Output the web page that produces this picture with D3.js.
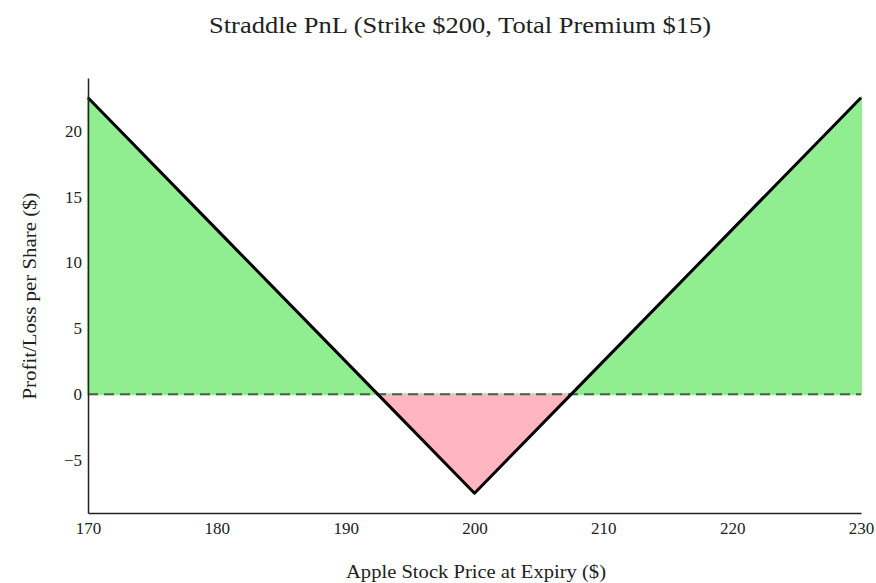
<!DOCTYPE html>
<html><head><meta charset="utf-8">
<script src="https://cdn.jsdelivr.net/npm/d3@7"></script>
<style>body{margin:0;background:#fff}svg{display:block}
.tick text{fill:#222}</style>
</head><body>
<script>
const prices = [170, 180, 190, 192.5, 200, 207.5, 210, 220, 230];
const pnl = [22.5, 12.5, 2.5, 0, -7.5, 0, 2.5, 12.5, 22.5];
const xTicks = [170, 180, 190, 200, 210, 220, 230];
const yTicks = [-5, 0, 5, 10, 15, 20];
const title = "Straddle PnL (Strike $200, Total Premium $15)";
const xLabel = "Apple Stock Price at Expiry ($)";
const yLabel = "Profit/Loss per Share ($)";

const W = 876, H = 583;
const m = {left: 88, right: 15, top: 78, bottom: 70};
const font = "'Liberation Serif', 'DejaVu Serif', serif";
const data = prices.map((p, i) => ({x: p, y: pnl[i]}));

const svg = d3.select("body").append("svg").attr("width", W).attr("height", H);
const x = d3.scaleLinear().domain([170, 230]).range([m.left, W - m.right]);
const y = d3.scaleLinear().domain([-9, 24]).range([H - m.bottom, m.top]);

svg.append("path").datum(data)
  .attr("fill", "#90EE90").attr("stroke", "#90EE90").attr("stroke-width", 2)
  .attr("d", d3.area().x(d => x(d.x)).y0(y(0)).y1(d => y(Math.max(d.y, 0))));
svg.append("path").datum(data)
  .attr("fill", "#FFB6C1")
  .attr("d", d3.area().x(d => x(d.x)).y0(y(0)).y1(d => y(Math.min(d.y, 0))));

svg.append("line").attr("x1", x(170)).attr("x2", x(230)).attr("y1", y(0)).attr("y2", y(0))
  .attr("stroke", "#555").attr("stroke-width", 2).attr("stroke-dasharray", "10,6");

svg.append("path").datum(data).attr("fill", "none").attr("stroke", "#000")
  .attr("stroke-width", 3).attr("stroke-linejoin", "round")
  .attr("d", d3.line().x(d => x(d.x)).y(d => y(d.y)));

const xa = svg.append("g").attr("transform", `translate(0,${y(-9)})`)
  .call(d3.axisBottom(x).tickValues(xTicks).tickSize(0).tickPadding(9).tickFormat(d3.format("d")));
const ya = svg.append("g").attr("transform", `translate(${m.left},0)`)
  .call(d3.axisLeft(y).tickValues(yTicks).tickSize(0).tickPadding(6).tickFormat(d => d < 0 ? "\u2212" + Math.abs(d) : d));
[xa, ya].forEach(a => {
  a.attr("font-size", 17).attr("font-family", font);
  a.select(".domain").attr("stroke", "#222").attr("stroke-width", 1.5);
});

svg.append("text").attr("x", 460).attr("y", 33).attr("text-anchor", "middle")
  .attr("font-family", font).attr("font-size", 23).attr("fill", "#222")
  .attr("textLength", 502).attr("lengthAdjust", "spacingAndGlyphs").text(title);
svg.append("text").attr("x", 476).attr("y", 578).attr("text-anchor", "middle")
  .attr("font-family", font).attr("font-size", 18).attr("fill", "#222")
  .attr("textLength", 260).attr("lengthAdjust", "spacingAndGlyphs").text(xLabel);
svg.append("text").attr("transform", `translate(36,296) rotate(-90)`).attr("text-anchor", "middle")
  .attr("font-family", font).attr("font-size", 18).attr("fill", "#222")
  .attr("textLength", 207).attr("lengthAdjust", "spacingAndGlyphs").text(yLabel);
</script>
</body></html>
